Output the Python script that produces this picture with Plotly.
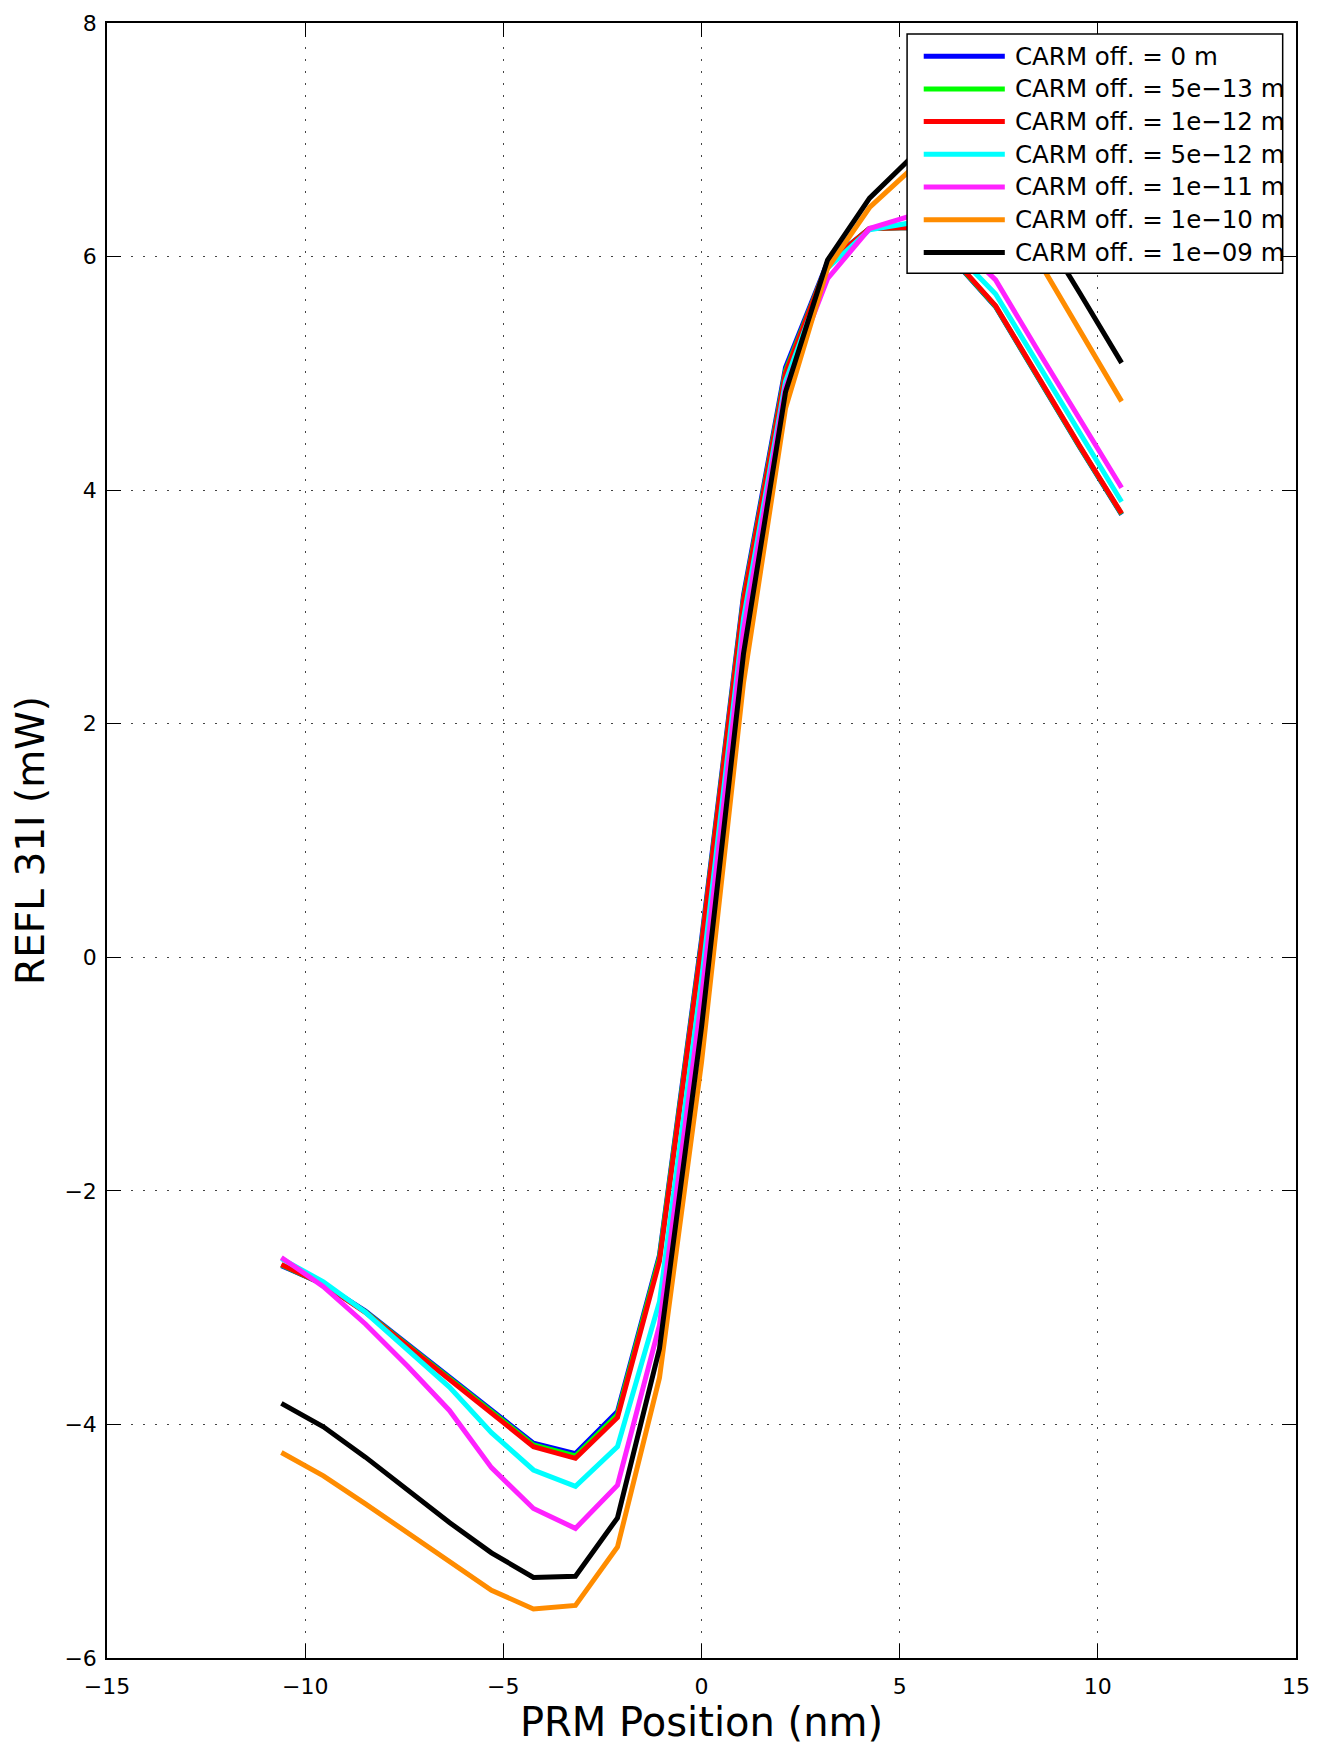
import plotly.graph_objects as go

# PRM position (nm)
prm_x = [-10.6, -9.54, -8.48, -7.42, -6.36, -5.3, -4.24, -3.18, -2.12, -1.06, 0.0,
         1.06, 2.12, 3.18, 4.24, 5.3, 6.36, 7.42, 8.48, 9.54, 10.6]

# REFL 31I (mW) for each CARM offset
refl_0 = [-2.64, -2.80, -3.03, -3.31, -3.59, -3.88, -4.16, -4.25, -3.89, -2.55, 0.15,
          3.10, 5.05, 5.95, 6.24, 6.25, 5.97, 5.57, 4.96, 4.37, 3.79]
refl_5e13 = [-2.635, -2.80, -3.035, -3.32, -3.60, -3.895, -4.175, -4.27, -3.915, -2.57, 0.12,
             3.07, 5.02, 5.94, 6.24, 6.25, 5.975, 5.575, 4.965, 4.375, 3.795]
refl_1e12 = [-2.63, -2.80, -3.04, -3.33, -3.61, -3.91, -4.19, -4.29, -3.94, -2.60, 0.10,
             3.05, 5.00, 5.94, 6.24, 6.25, 5.98, 5.58, 4.97, 4.38, 3.80]
refl_5e12 = [-2.58, -2.78, -3.04, -3.36, -3.68, -4.07, -4.39, -4.53, -4.19, -2.95, -0.20,
             2.90, 4.93, 5.90, 6.23, 6.29, 6.05, 5.68, 5.08, 4.48, 3.90]
refl_1e11 = [-2.57, -2.82, -3.14, -3.50, -3.88, -4.37, -4.72, -4.89, -4.52, -3.15, -0.35,
             2.80, 4.88, 5.81, 6.24, 6.35, 6.15, 5.80, 5.20, 4.60, 4.02]
refl_1e10 = [-4.24, -4.44, -4.68, -4.93, -5.18, -5.42, -5.58, -5.55, -5.05, -3.60, -0.90,
             2.35, 4.70, 5.90, 6.42, 6.75, 6.80, 6.50, 5.98, 5.37, 4.76]
refl_1e09 = [-3.82, -4.02, -4.28, -4.56, -4.84, -5.10, -5.31, -5.30, -4.80, -3.35, -0.60,
             2.60, 4.84, 5.97, 6.50, 6.85, 6.95, 6.72, 6.28, 5.69, 5.09]

series_names = ["CARM off. = 0 m", "CARM off. = 5e\u221213 m", "CARM off. = 1e\u221212 m",
                "CARM off. = 5e\u221212 m", "CARM off. = 1e\u221211 m", "CARM off. = 1e\u221210 m",
                "CARM off. = 1e\u221209 m"]
series_values = [refl_0, refl_5e13, refl_1e12, refl_5e12, refl_1e11, refl_1e10, refl_1e09]
series_colors = ["#0000ff", "#00ff00", "#ff0000", "#00ffff", "#ff22ff", "#ff8c00", "#000000"]

x_ticks = [-15, -10, -5, 0, 5, 10, 15]
y_ticks = [-6, -4, -2, 0, 2, 4, 6, 8]

FONT = "DejaVu Sans"
LINE_W = 5

fig = go.Figure()
for name, vals, col in zip(series_names, series_values, series_colors):
    fig.add_trace(go.Scatter(x=prm_x, y=vals, mode="lines", name=name,
                             line=dict(color=col, width=LINE_W), showlegend=False))

# Legend box drawn in paper coordinates (MATLAB style: long line samples)
leg_x0, leg_x1 = 0.6729, 0.9888
leg_y0, leg_y1 = 0.8469, 0.9932
samp_x0, samp_x1 = 0.6869, 0.7551
text_x = 0.7617
row_top, row_step = 0.9797, 0.02

shapes = [dict(type="rect", xref="paper", yref="paper", x0=leg_x0, x1=leg_x1,
               y0=leg_y0, y1=leg_y1, fillcolor="white",
               line=dict(color="black", width=1.5), layer="above")]
annotations = []
for i, (name, col) in enumerate(zip(series_names, series_colors)):
    yy = row_top - i * row_step
    shapes.append(dict(type="line", xref="paper", yref="paper", x0=samp_x0, x1=samp_x1,
                       y0=yy, y1=yy, line=dict(color=col, width=LINE_W), layer="above"))
    annotations.append(dict(xref="paper", yref="paper", x=text_x, y=yy, text=name,
                            showarrow=False, xanchor="left", yanchor="middle",
                            font=dict(family=FONT, size=24.5, color="black")))

axis_common = dict(
    showgrid=True, gridcolor="#444444", griddash="2px,10px", gridwidth=1.2,
    zeroline=False, showline=True, linecolor="black", linewidth=1.5,
    mirror="allticks", ticks="inside", ticklen=14, tickcolor="black", tickwidth=1.2,
    tickfont=dict(family=FONT, size=22, color="black"),
    automargin=False, ticklabeloverflow="allow",
)

fig.update_layout(
    width=1324, height=1743,
    paper_bgcolor="white", plot_bgcolor="white",
    margin=dict(l=99, r=36, t=15, b=93),
    font=dict(family=FONT, color="black"),
    xaxis=dict(range=[-15, 15], tickvals=x_ticks, ticklabelstandoff=8,
               title=dict(text="PRM Position (nm)", font=dict(family=FONT, size=40), standoff=4),
               **axis_common),
    yaxis=dict(range=[-6, 8], tickvals=y_ticks, ticklabelstandoff=4,
               title=dict(text="REFL 31I (mW)", font=dict(family=FONT, size=39), standoff=14),
               **axis_common),
    shapes=shapes,
    annotations=annotations,
    showlegend=False,
)

fig.write_html("out.html")
